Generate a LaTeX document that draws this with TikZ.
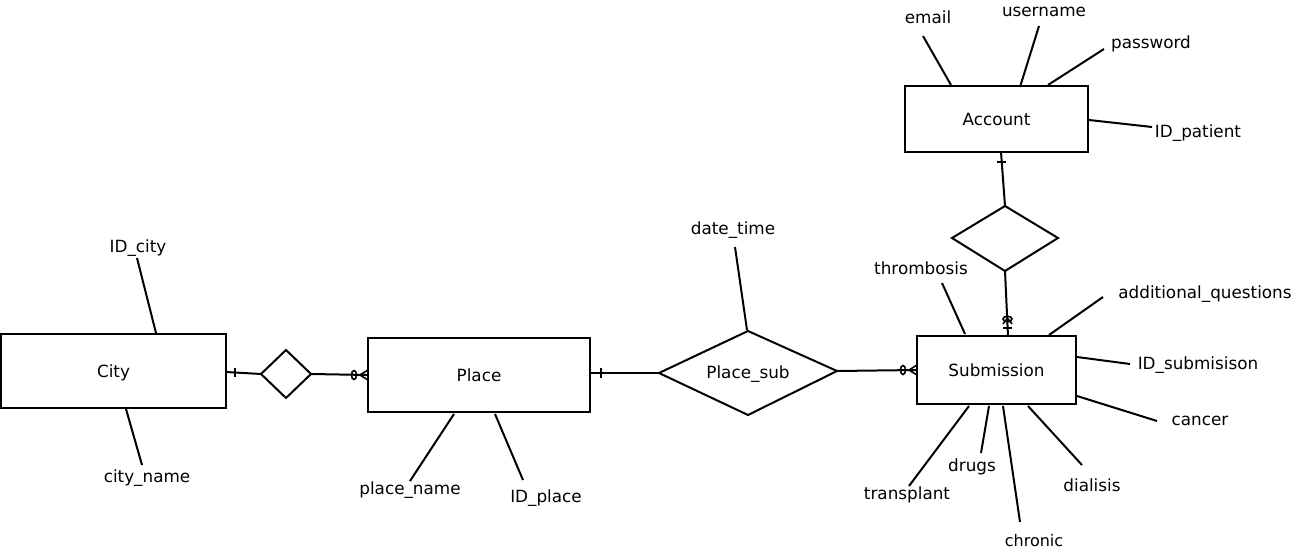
\documentclass[tikz,border=0pt]{standalone}
\usepackage{fontspec}
\setmainfont{DejaVu Sans}
\usetikzlibrary{calc}
\begin{document}
\begin{tikzpicture}[x=1pt,y=-1pt,line width=2pt,
  every node/.style={font=\fontsize{16.8}{20}\selectfont, inner sep=0pt, text height=12.2pt, text depth=0pt},
  entity/.style={draw, rectangle, line width=2pt},
  link/.style={line width=2pt},
  zmark/.style={line width=1.6pt}]
\useasboundingbox (0,0) rectangle (1294,551);
% entities
\node[entity, minimum width=225pt, minimum height=74pt] (city) at (113.5,371) {City};
\node[entity, minimum width=222pt, minimum height=74pt] (place) at (479,375) {Place};
\node[entity, minimum width=183pt, minimum height=66pt] (account) at (996.5,119) {Account};
\node[entity, minimum width=159pt, minimum height=68pt] (sub) at (996.5,370) {Submission};
% relationship diamonds
\draw (286,350) -- (311,374) -- (286,398) -- (261,374) -- cycle;
\coordinate (d1w) at (261,374); \coordinate (d1e) at (311,374);
\draw (748,331) -- (837,371) -- (748,415) -- (659,373) -- cycle;
\node at (748,372) (psub) {Place\_sub};
\coordinate (d2w) at (659,373); \coordinate (d2e) at (837,371);
\draw (1005,206) -- (1058,238) -- (1005,271) -- (952,238) -- cycle;
\coordinate (d3n) at (1005,206); \coordinate (d3s) at (1005,271);
% connectors
\coordinate (cityE) at (226,372);
\draw[link] (cityE) -- (d1w);
\draw[zmark] (235,368) -- (235,377);
\coordinate (placeW) at (368,375);
\draw[link] (d1e) -- (placeW);
\draw[zmark] (354,375) ellipse (2.5pt and 4.5pt);
\draw[zmark] (368,370) -- (360,375) -- (368,380);
\coordinate (placeE) at (590,373);
\draw[link] (placeE) -- (d2w);
\draw[zmark] (601,368) -- (601,378);
\coordinate (subW) at (917,370);
\draw[link] (d2e) -- (subW);
\draw[zmark] (903,370) ellipse (2.5pt and 4.5pt);
\draw[zmark] (917,365) -- (909,370) -- (917,375);
\coordinate (accS) at (1001,152);
\draw[link] (accS) -- (d3n);
\draw[zmark] (997,162) -- (1006,162);
\coordinate (subN) at (1008,336);
\draw[link] (d3s) -- (subN);
\draw[zmark] (1007.5,319) ellipse (4.5pt and 2.8pt);
\draw[zmark] (1003,328) -- (1012,328);
\draw[zmark] (1003,324) -- (1007.5,318) -- (1012,324);
% attribute labels
\node (idcity) at (138,246) {ID\_city};
\node (cityname) at (147,476) {city\_name};
\node (placename) at (410,488) {place\_name};
\node (idplace) at (546,496) {ID\_place};
\node (datetime) at (733,228) {date\_time};
\node (email) at (928,17) {email};
\node (username) at (1044,10) {username};
\node (password) at (1151,42) {password};
\node (idpatient) at (1198,131) {ID\_patient};
\node (thromb) at (921,268) {thrombosis};
\node (addq) at (1205,292) {additional\_questions};
\node (idsub) at (1198,363) {ID\_submisison};
\node (cancer) at (1200,419) {cancer};
\node (transplant) at (907,493) {transplant};
\node (drugs) at (972,465) {drugs};
\node[font=\fontsize{16}{19}\selectfont] (chronic) at (1034,540) {chronic};
\node (dialisis) at (1092,485) {dialisis};
% attribute lines
\foreach \a/\b in {
  {(137,258)}/{(156,333)}, {(142,465)}/{(126,409)},
  {(410,481)}/{(454,414)}, {(523,480)}/{(495,414)},
  {(735,247)}/{(747,330)},
  {(923,36)}/{(951,85)}, {(1039,26)}/{(1020,87)}, {(1104,49)}/{(1048,85)},
  {(1089,120)}/{(1152,127)},
  {(942,283)}/{(965,334)}, {(1103,297)}/{(1049,335)},
  {(1077,357)}/{(1130,364)}, {(1077,396)}/{(1157,421)},
  {(909,486)}/{(969,406)}, {(981,453)}/{(989,406)},
  {(1020,522)}/{(1003,406)}, {(1082,465)}/{(1028,406)}}
  \draw[link] \a -- \b;
\end{tikzpicture}
\end{document}
